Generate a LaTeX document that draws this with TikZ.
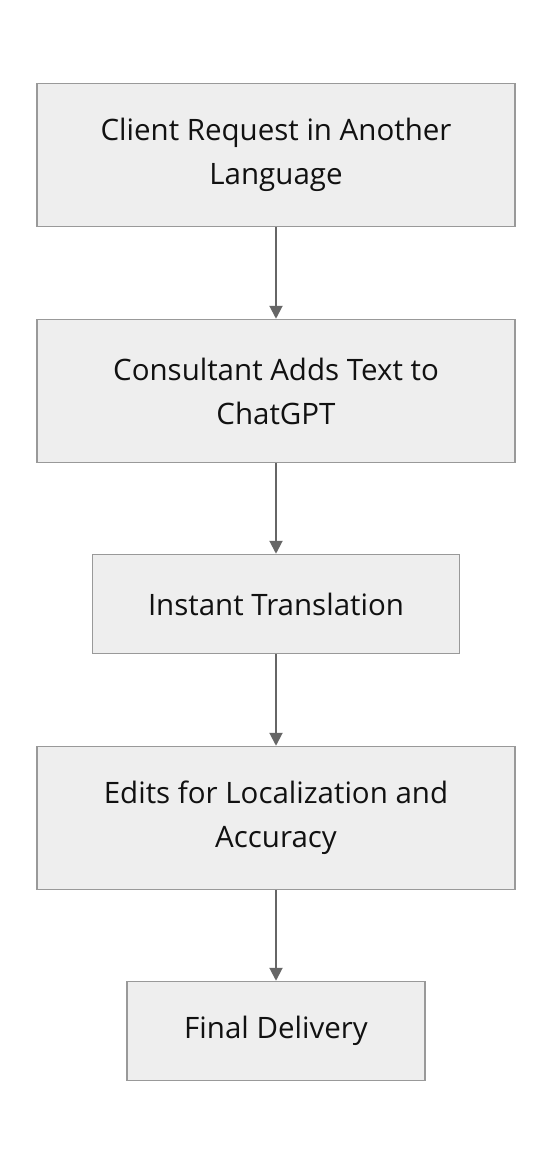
\documentclass[tikz,border=0pt]{standalone}
\usepackage{fontspec}
\setmainfont{Open Sans}
\usetikzlibrary{arrows.meta}
\definecolor{boxfill}{HTML}{EEEEEE}
\definecolor{boxline}{HTML}{999999}
\definecolor{arrowc}{HTML}{666666}
\definecolor{txt}{HTML}{111111}
\tikzset{
  flowbox/.style={draw=boxline, fill=boxfill, line width=1.5bp, inner sep=0pt, align=center, text=txt, font=\fontsize{29.5bp}{44bp}\selectfont},
  flowarrow/.style={draw=arrowc, line width=2bp, -{Triangle[width=13bp,length=13bp]}}
}
\begin{document}
\begin{tikzpicture}[x=1bp,y=-1bp]
\useasboundingbox (0,0) rectangle (552,1164);
\fill[white] (0,0) rectangle (552,1164);
\node[flowbox, minimum width=478bp, minimum height=143bp] (a) at (276,155) {Client Request in Another\\Language};
\node[flowbox, minimum width=478bp, minimum height=143bp] (b) at (276,391) {Consultant Adds Text to\\ChatGPT};
\node[flowbox, minimum width=367bp, minimum height=99bp] (c) at (276,604) {Instant Translation};
\node[flowbox, minimum width=478bp, minimum height=143bp] (d) at (276,818) {Edits for Localization and\\Accuracy};
\node[flowbox, minimum width=298bp, minimum height=99bp] (e) at (276,1031) {Final Delivery};
\draw[flowarrow] (a) -- (b);
\draw[flowarrow] (b) -- (c);
\draw[flowarrow] (c) -- (d);
\draw[flowarrow] (d) -- (e);
\end{tikzpicture}
\end{document}
